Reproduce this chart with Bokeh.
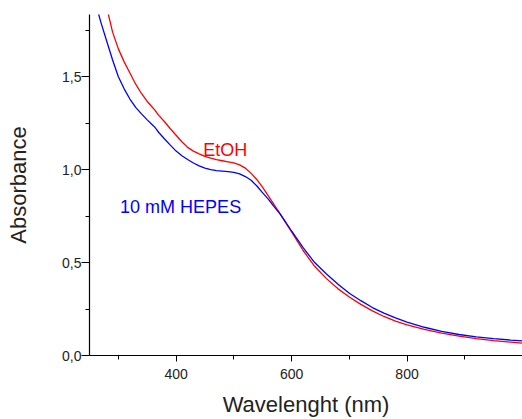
from bokeh.plotting import figure
from bokeh.models import Range1d, FixedTicker, Label
from bokeh.embed import file_html
from bokeh.resources import INLINE

# Wavelength (nm) and absorbance, EtOH
etoh_wl = [270, 280, 290, 300, 310, 320, 330, 340, 350, 360, 363, 366, 370, 380, 390,
           400, 410, 420, 430, 440, 450, 460, 470, 480, 490, 500, 510, 520, 530, 540,
           550, 560, 570, 580, 590, 600, 620, 640, 660, 680, 700, 720, 740, 760, 780,
           800, 830, 860, 890, 920, 950, 980, 1000]
etoh_abs = [2.02, 1.87, 1.74, 1.65, 1.58, 1.52, 1.46, 1.41, 1.367, 1.332, 1.322, 1.308, 1.292, 1.258, 1.22,
            1.185, 1.15, 1.12, 1.10, 1.085, 1.072, 1.062, 1.054, 1.048, 1.042, 1.036, 1.026, 1.008, 0.98, 0.946,
            0.905, 0.858, 0.81, 0.763, 0.714, 0.665, 0.565, 0.48, 0.415, 0.36, 0.315, 0.275, 0.24, 0.21, 0.185,
            0.165, 0.14, 0.12, 0.104, 0.091, 0.08, 0.072, 0.066]

# Wavelength (nm) and absorbance, 10 mM HEPES
hepes_wl = [260, 270, 280, 290, 300, 310, 320, 330, 340, 350, 360, 363, 366, 370, 380, 390,
            400, 410, 420, 430, 440, 450, 460, 470, 480, 490, 500, 510, 520, 530, 540,
            550, 560, 570, 580, 590, 600, 620, 640, 660, 680, 700, 720, 740, 760, 780,
            800, 830, 860, 890, 920, 950, 980, 1000]
hepes_abs = [1.90, 1.79, 1.69, 1.59, 1.50, 1.435, 1.38, 1.335, 1.30, 1.268, 1.238, 1.229, 1.217, 1.200, 1.165, 1.132,
             1.10, 1.075, 1.055, 1.036, 1.02, 1.008, 1.0, 0.995, 0.992, 0.989, 0.985, 0.977, 0.963, 0.943, 0.912,
             0.875, 0.84, 0.80, 0.762, 0.717, 0.67, 0.58, 0.50, 0.44, 0.385, 0.335, 0.295, 0.258, 0.228, 0.202,
             0.18, 0.152, 0.13, 0.113, 0.10, 0.091, 0.083, 0.078]

x_ticks = [400, 600, 800]
x_minor = [300, 500, 700, 900]
y_ticks = [0.0, 0.5, 1.0, 1.5]
y_tick_labels = ["0,0", "0,5", "1,0", "1,5"]
y_minor = [0.25, 0.75, 1.25, 1.75]

FONT = "Liberation Sans"

p = figure(width=522, height=419, output_backend="svg", toolbar_location=None,
           x_range=Range1d(250, 1000), y_range=Range1d(0, 1.835),
           min_border_left=89, min_border_right=0, min_border_top=14, min_border_bottom=62)
p.outline_line_color = None
p.grid.visible = False
p.background_fill_color = "white"
p.border_fill_color = "white"

p.line(etoh_wl, etoh_abs, color="#ff0000", line_width=1.3)
p.line(hepes_wl, hepes_abs, color="#0000ff", line_width=1.3)

p.xaxis.ticker = FixedTicker(ticks=x_ticks, minor_ticks=x_minor)
p.yaxis.ticker = FixedTicker(ticks=y_ticks, minor_ticks=y_minor)
p.yaxis.major_label_overrides = {float(v): s for v, s in zip(y_ticks, y_tick_labels)}

for ax in (p.xaxis, p.yaxis):
    ax.axis_line_color = "black"
    ax.axis_line_width = 1.2
    ax.major_tick_line_color = "black"
    ax.minor_tick_line_color = "black"
    ax.major_tick_in = 0
    ax.minor_tick_in = 0
    ax.major_label_text_font = FONT
    ax.major_label_text_font_size = "14px"
    ax.major_label_text_color = "#222222"
    ax.axis_label_text_font = FONT
    ax.axis_label_text_font_size = "22px"
    ax.axis_label_text_font_style = "normal"
    ax.axis_label_text_color = "#222222"

p.xaxis.major_tick_out = 6
p.xaxis.minor_tick_out = 4
p.yaxis.major_tick_out = 8
p.yaxis.minor_tick_out = 4
p.xaxis.major_label_standoff = 7
p.yaxis.major_label_standoff = 0
p.xaxis.axis_label = "Wavelenght (nm)"
p.yaxis.axis_label = "Absorbance"
p.xaxis.axis_label_standoff = 10
p.yaxis.axis_label_standoff = 28

p.add_layout(Label(x=447, y=1.107, text="EtOH", text_color="#ff0000",
                   text_font=FONT, text_font_size="18px", text_baseline="alphabetic"))
p.add_layout(Label(x=303, y=0.80, text="10 mM HEPES", text_color="#0000ff",
                   text_font=FONT, text_font_size="18px", text_baseline="alphabetic"))

open("out.html", "w").write(file_html(p, INLINE))
